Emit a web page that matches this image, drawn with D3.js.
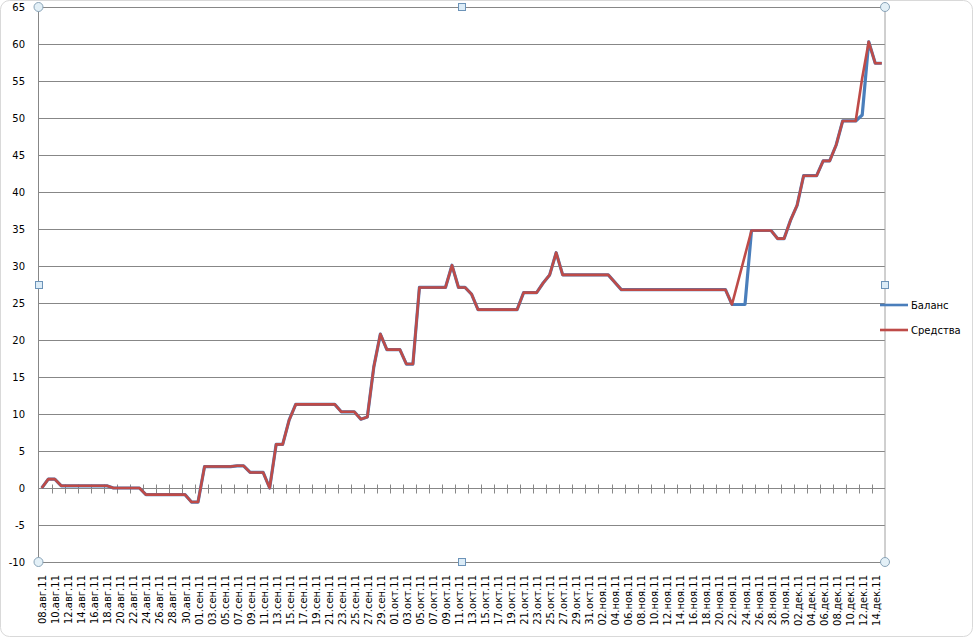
<!DOCTYPE html>
<html>
<head>
<meta charset="utf-8">
<script src="https://cdn.jsdelivr.net/npm/d3@7"></script>
<style>
  html, body { margin: 0; padding: 0; background: #fff; }
  svg { display: block; font-family: "DejaVu Sans", Verdana, sans-serif; }
</style>
</head>
<body>
<svg id="chart" width="973" height="637"></svg>
<script>
// ---- data ----
const dates = [
  "2011-08-08","2011-08-09","2011-08-10","2011-08-11","2011-08-18","2011-08-19","2011-08-23","2011-08-24",
  "2011-08-30","2011-08-31","2011-09-01","2011-09-02","2011-09-06","2011-09-07","2011-09-08","2011-09-09",
  "2011-09-11","2011-09-12","2011-09-13","2011-09-14","2011-09-15","2011-09-16","2011-09-22","2011-09-23",
  "2011-09-25","2011-09-26","2011-09-27","2011-09-28","2011-09-29","2011-09-30","2011-10-02","2011-10-03",
  "2011-10-04","2011-10-05","2011-10-09","2011-10-10","2011-10-11","2011-10-12","2011-10-13","2011-10-14",
  "2011-10-20","2011-10-21","2011-10-23","2011-10-24","2011-10-25","2011-10-26","2011-10-27","2011-11-03",
  "2011-11-05","2011-11-21","2011-11-22","2011-11-24","2011-11-25","2011-11-28","2011-11-29","2011-11-30",
  "2011-12-01","2011-12-02","2011-12-03","2011-12-05","2011-12-06","2011-12-07","2011-12-08","2011-12-09",
  "2011-12-11","2011-12-12","2011-12-13","2011-12-14","2011-12-15"
];
const balance = [
  0, 1.2, 1.2, 0.3, 0.3, 0, 0, -0.9,
  -0.9, -1.9, -1.9, 2.9, 2.9, 3.0, 3.0, 2.1,
  2.1, 0, 5.9, 5.9, 9.2, 11.3, 11.3, 10.3,
  10.3, 9.3, 9.6, 16.4, 20.8, 18.7, 18.7, 16.75,
  16.75, 27.1, 27.1, 30.1, 27.1, 27.1, 26.2, 24.1,
  24.1, 26.4, 26.4, 27.7, 28.8, 31.8, 28.8, 28.8,
  26.8, 26.8, 24.8, 24.8, 34.8, 34.8, 33.7, 33.7,
  36.2, 38.2, 42.2, 42.2, 44.2, 44.2, 46.35, 49.6,
  49.6, 50.4, 60.3, 57.4, 57.4
];
const funds = [
  0, 1.2, 1.2, 0.3, 0.3, 0, 0, -0.9,
  -0.9, -1.9, -1.9, 2.9, 2.9, 3.0, 3.0, 2.1,
  2.1, 0, 5.9, 5.9, 9.2, 11.3, 11.3, 10.3,
  10.3, 9.3, 9.6, 16.4, 20.8, 18.7, 18.7, 16.75,
  16.75, 27.1, 27.1, 30.1, 27.1, 27.1, 26.2, 24.1,
  24.1, 26.4, 26.4, 27.7, 28.8, 31.8, 28.8, 28.8,
  26.8, 26.8, 24.8, null, 34.8, 34.8, 33.7, 33.7,
  36.2, 38.2, 42.2, 42.2, 44.2, 44.2, 46.35, 49.6,
  49.6, 55.4, 60.3, 57.4, 57.4
];
const seriesNames = ["Баланс", "Средства"];
const seriesColors = ["#4A7EBB", "#BE4B48"];
const monthAbbr = ["янв","фев","мар","апр","май","июн","июл","авг","сен","окт","ноя","дек"];
const yTicks = [-10, -5, 0, 5, 10, 15, 20, 25, 30, 35, 40, 45, 50, 55, 60, 65];
const firstDay = "2011-08-08", lastDay = "2011-12-15";

// ---- layout ----
const svg = d3.select("#chart");
const L = 38.5, R = 885, T = 7, B = 562;
const parse = d3.utcParse("%Y-%m-%d");
const d0 = parse(firstDay), d1 = parse(lastDay);
const half = 12 * 3600 * 1000;
const x = d3.scaleUtc().domain([new Date(+d0 - half), new Date(+d1 + half)]).range([L, R]);
const y = d3.scaleLinear().domain([-10, 65]).range([B, T]);

// outer chart border
svg.append("rect").attr("x", 0.5).attr("y", 0.5).attr("width", 972).attr("height", 636)
  .attr("rx", 9).attr("fill", "none").attr("stroke", "#d9d9d9");

// gridlines
svg.append("g").selectAll("line").data(yTicks).join("line")
  .attr("x1", L).attr("x2", R)
  .attr("y1", d => Math.round(y(d)) + 0.5).attr("y2", d => Math.round(y(d)) + 0.5)
  .attr("stroke", "#878787").attr("stroke-width", 1);

// y axis line & right frame
svg.append("line").attr("x1", L).attr("x2", L).attr("y1", T).attr("y2", B).attr("stroke", "#878787");
svg.append("line").attr("x1", R).attr("x2", R).attr("y1", T).attr("y2", B).attr("stroke", "#a0a0a0");

// y labels
svg.append("g").selectAll("text").data(yTicks).join("text")
  .attr("x", 25).attr("y", d => y(d)).attr("dy", "0.35em")
  .attr("text-anchor", "end").attr("font-size", 10).attr("fill", "#000")
  .text(d => d);

// x axis at zero with cross ticks (every 2 days, at band boundaries)
const allDays = d3.utcDay.range(d0, d3.utcDay.offset(d1, 1));
const labelDays = allDays.filter((d, i) => i % 2 === 0);
const tickDays = labelDays.slice(1).map(d => new Date(+d - half));
const y0 = Math.round(y(0)) + 0.5;
svg.append("line").attr("x1", L).attr("x2", R).attr("y1", y0).attr("y2", y0).attr("stroke", "#878787");
svg.append("g").selectAll("line").data(tickDays).join("line")
  .attr("x1", d => Math.round(x(d)) + 0.5).attr("x2", d => Math.round(x(d)) + 0.5)
  .attr("y1", y0 - 4).attr("y2", y0 + 5).attr("stroke", "#878787");

// x labels at bottom, rotated
const fmt = d => d3.utcFormat("%d")(d) + "." + monthAbbr[d.getUTCMonth()] + "." + d3.utcFormat("%y")(d);
svg.append("g").selectAll("text").data(labelDays).join("text")
  .attr("transform", d => `translate(${x(d) + 1},575) rotate(-90)`)
  .attr("dy", "0.35em").attr("text-anchor", "end")
  .attr("font-size", 10).attr("fill", "#000")
  .text(fmt);

// series lines
const line = d3.line().x(d => x(d.date)).y(d => y(d.v));
const series = [balance, funds].map(arr =>
  dates.map((s, i) => ({ date: parse(s), v: arr[i] })).filter(d => d.v !== null));
svg.append("path").datum(series[0]).attr("d", line)
  .attr("fill", "none").attr("stroke", seriesColors[0]).attr("stroke-width", 3.2)
  .attr("stroke-linejoin", "round");
svg.append("path").datum(series[1]).attr("d", line)
  .attr("fill", "none").attr("stroke", seriesColors[1]).attr("stroke-width", 2.6)
  .attr("stroke-linejoin", "round");

// selection handles of plot area
const midX = (L + R) / 2, midY = (T + B) / 2;
[[L, T], [R, T], [L, B], [R, B]].forEach(([cx, cy]) => {
  svg.append("circle").attr("cx", cx).attr("cy", cy).attr("r", 4.5)
    .attr("fill", "#e3f0f7").attr("stroke", "#8aa4b8").attr("stroke-width", 1);
});
[[midX, T], [midX, B], [L, midY], [R, midY]].forEach(([cx, cy]) => {
  svg.append("rect").attr("x", Math.round(cx) - 3.5).attr("y", Math.round(cy) - 3.5)
    .attr("width", 7).attr("height", 7)
    .attr("fill", "#dcecf7").attr("stroke", "#6c93b8").attr("stroke-width", 1);
});

// legend
const legY = [305, 330];
seriesNames.forEach((name, i) => {
  svg.append("line").attr("x1", 880).attr("x2", 908).attr("y1", legY[i]).attr("y2", legY[i])
    .attr("stroke", seriesColors[i]).attr("stroke-width", 2.6);
  svg.append("text").attr("x", 911).attr("y", legY[i]).attr("dy", "0.35em")
    .attr("font-size", 10).attr("fill", "#000").text(name);
});
</script>
</body>
</html>
